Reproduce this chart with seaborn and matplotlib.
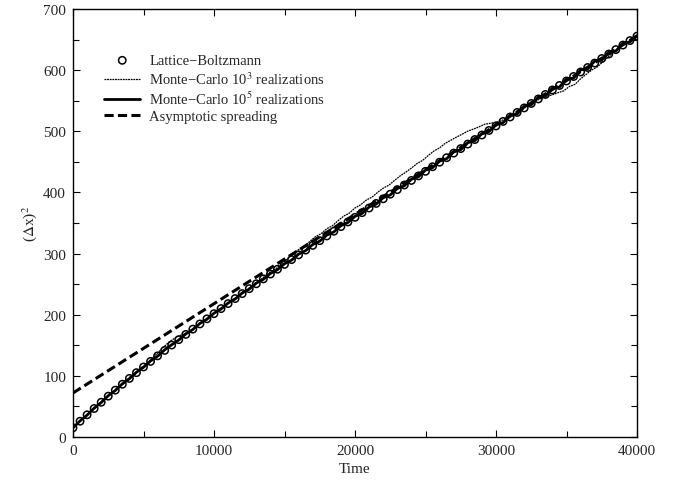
import numpy as np
import pandas as pd
import matplotlib
matplotlib.use("Agg")
import matplotlib.pyplot as plt
import seaborn as sns
from matplotlib.ticker import MultipleLocator

# ---------------- data ----------------
lb_time = list(range(0, 40001, 500))
lb_vals = [15.0, 25.8, 36.3, 46.6, 56.8, 66.8, 76.6, 86.3, 95.8, 105.2,
           114.5, 123.6, 132.7, 141.6, 150.4, 159.2, 167.8, 176.4, 184.9, 193.3,
           201.7, 210.0, 218.2, 226.4, 234.5, 242.6, 250.6, 258.6, 266.5, 274.4,
           282.3, 290.1, 297.9, 305.7, 313.4, 321.1, 328.8, 336.5, 344.1, 351.7,
           359.3, 366.9, 374.5, 382.0, 389.6, 397.1, 404.6, 412.1, 419.6, 427.0,
           434.5, 442.0, 449.4, 456.8, 464.3, 471.7, 479.1, 486.5, 493.9, 501.3,
           508.7, 516.1, 523.4, 530.8, 538.2, 545.5, 552.9, 560.2, 567.6, 574.9,
           582.3, 589.6, 597.0, 604.3, 611.6, 619.0, 626.3, 633.6, 641.0, 648.3,
           655.6]

mc5_time = list(range(0, 40001, 500))
mc5_vals = [15.0, 26.3, 35.8, 47.2, 56.3, 67.5, 76.1, 87.0, 95.3, 105.9,
            114.0, 124.4, 132.1, 142.5, 150.9, 158.6, 168.6, 175.8, 185.7, 192.6,
            202.5, 209.3, 219.1, 225.7, 235.4, 241.8, 251.7, 257.9, 267.4, 273.6,
            283.4, 289.2, 299.1, 304.8, 314.8, 320.3, 330.2, 335.4, 345.6, 350.8,
            360.9, 365.7, 376.2, 380.9, 391.3, 395.8, 406.4, 410.9, 421.5, 425.6,
            436.6, 440.5, 451.3, 455.2, 466.5, 469.9, 481.4, 484.6, 496.2, 499.4,
            511.3, 514.0, 526.1, 528.2, 541.0, 543.1, 555.9, 557.6, 570.8, 572.3,
            585.6, 587.0, 600.4, 601.9, 615.0, 616.6, 629.5, 631.2, 644.1, 646.0,
            656.5]

mc3_time = list(range(0, 40001, 400))
mc3_vals = [15.0, 24.8, 31.3, 41.5, 47.6, 57.7, 66.3, 72.1, 81.8, 87.2,
            97.4, 103.8, 112.9, 119.2, 128.5, 137.2, 146.6, 155.1, 161.4, 166.1,
            169.8, 173.9, 182.7, 187.8, 196.4, 202.0, 210.1, 214.5, 223.0, 228.6,
            236.7, 241.8, 249.9, 255.0, 263.0, 270.0, 275.4, 283.5, 291.0, 299.6,
            306.5, 311.5, 320.1, 327.7, 332.6, 340.7, 345.5, 353.8, 361.3, 366.2,
            374.5, 379.8, 387.5, 392.3, 400.0, 407.0, 411.8, 419.6, 427.0, 433.1,
            439.8, 447.3, 452.4, 460.5, 467.8, 472.9, 480.3, 485.4, 490.6, 495.2,
            500.3, 503.6, 507.3, 511.6, 513.0, 514.8, 517.6, 521.7, 525.8, 533.8,
            537.4, 545.9, 549.4, 553.8, 557.1, 559.8, 563.1, 566.1, 573.2, 576.7,
            585.8, 593.2, 600.4, 605.5, 614.2, 622.3, 630.4, 638.9, 642.7, 650.6,
            656.0]

asym_time = [0, 40000]
asym_vals = [72.0, 656.0]

labels = ["Lattice\u2212Boltzmann",
          "Monte\u2212Carlo 10$^3$ realizations",
          "Monte\u2212Carlo 10$^5$ realizations",
          "Asymptotic spreading"]

# ---------------- figure ----------------
sns.set_style("ticks")
plt.rcParams['font.family'] = ['Liberation Serif', 'DejaVu Serif']
plt.rcParams['mathtext.fontset'] = 'stix'

fig = plt.figure(figsize=(6.8, 4.85), dpi=100)
ax = fig.add_axes([73 / 680, 47 / 485, 564 / 680, 428 / 485])

df_lb = pd.DataFrame({"t": lb_time, "y": lb_vals})
df_mc3 = pd.DataFrame({"t": mc3_time, "y": mc3_vals})
df_mc5 = pd.DataFrame({"t": mc5_time, "y": mc5_vals})
df_as = pd.DataFrame({"t": asym_time, "y": asym_vals})

sns.scatterplot(data=df_lb, x="t", y="y", ax=ax, marker="o", s=28,
                facecolors="none", edgecolors="black", linewidth=1.1,
                label=labels[0], zorder=2)
sns.lineplot(data=df_mc3, x="t", y="y", ax=ax, color="black", lw=0.9,
             linestyle=(0, (1.5, 0.6)), label=labels[1], zorder=3)
sns.lineplot(data=df_mc5, x="t", y="y", ax=ax, color="black", lw=2.0,
             label=labels[2], zorder=4)
sns.lineplot(data=df_as, x="t", y="y", ax=ax, color="black", lw=2.2,
             linestyle=(0, (3, 1.4)), label=labels[3], zorder=5)

ax.set_xlim(0, 40000)
ax.set_ylim(0, 700)
ax.xaxis.set_major_locator(MultipleLocator(10000))
ax.xaxis.set_minor_locator(MultipleLocator(5000))
ax.yaxis.set_major_locator(MultipleLocator(100))
ax.yaxis.set_minor_locator(MultipleLocator(50))
ax.tick_params(which="both", direction="in", top=True, right=True,
               labelsize=11, color="black", width=0.8, pad=5)
ax.tick_params(which="major", length=5)
ax.tick_params(which="minor", length=4)
for sp in ax.spines.values():
    sp.set_linewidth(1.0)
    sp.set_color("black")

ax.set_xlabel("Time", fontsize=11, labelpad=4)
ax.set_ylabel("($\\Delta$x)$^2$", fontsize=11, labelpad=3)

leg = ax.legend(loc="upper left", bbox_to_anchor=(0.055, 0.895), frameon=False,
                fontsize=10.5, handlelength=2.5, handletextpad=0.6,
                labelspacing=0.2, borderpad=0, borderaxespad=0)

fig.savefig("out.png", dpi=100)
